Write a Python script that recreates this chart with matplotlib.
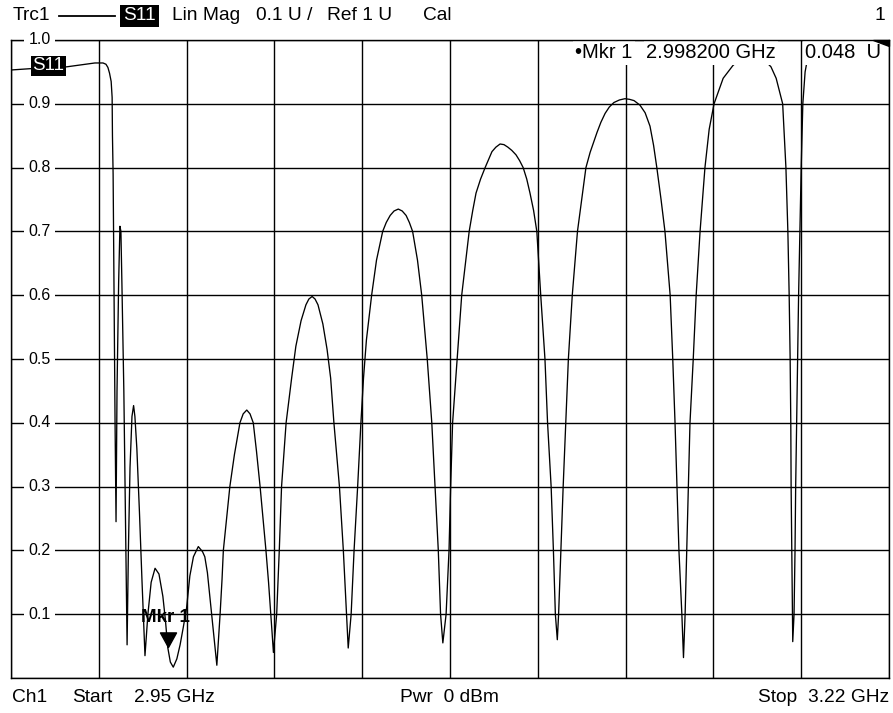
import numpy as np
import matplotlib
matplotlib.use("Agg")
import matplotlib.pyplot as plt
import matplotlib.transforms as mtransforms
from matplotlib.patches import Polygon
from matplotlib.lines import Line2D
from matplotlib.path import Path

plt.rcParams['font.family'] = ['Liberation Sans', 'DejaVu Sans']

# Sweep settings
START_MHZ = 2950.0
STOP_MHZ = 3220.0
REF_LEVEL = 1.0
SCALE_DIV = 0.1

# Measured |S11| (linear magnitude) versus frequency
freq_mhz = [
    2950.0, 2955.8, 2962.0, 2967.2, 2972.8, 2975.8, 2978.3, 2979.2, 2979.8, 2980.3,
    2980.8, 2981.1, 2981.2, 2981.4, 2981.7, 2982.0, 2982.3, 2982.6, 2983.1, 2983.5,
    2983.8, 2984.1, 2984.7, 2985.2, 2985.7, 2986.1, 2986.6, 2987.2, 2987.7, 2988.1,
    2988.7, 2989.5, 2990.3, 2991.2, 2992.1, 2993.1, 2994.3, 2995.5, 2996.7, 2997.5,
    2998.2, 2999.0, 2999.9, 3001.0, 3002.0, 3003.0, 3004.0, 3005.0, 3006.1, 3007.6,
    3008.9, 3009.6, 3010.4, 3011.1, 3011.7, 3012.5, 3013.3, 3013.8, 3014.3, 3014.9,
    3015.3, 3016.3, 3017.3, 3018.7, 3020.4, 3021.4, 3022.5, 3023.5, 3024.5, 3025.5,
    3026.6, 3027.5, 3028.4, 3029.2, 3029.9, 3030.3, 3030.7, 3031.2, 3031.7, 3032.5,
    3033.2, 3034.6, 3036.3, 3037.6, 3039.2, 3040.7, 3041.6, 3042.6, 3043.5, 3044.4,
    3045.9, 3047.2, 3048.3, 3049.3, 3051.0, 3052.2, 3053.2, 3053.7, 3054.6, 3055.5,
    3056.6, 3057.6, 3058.4, 3059.3, 3060.9, 3062.4, 3064.3, 3065.4, 3066.6, 3067.8,
    3069.1, 3070.3, 3071.5, 3072.5, 3073.5, 3075.0, 3076.3, 3078.0, 3079.4, 3080.4,
    3081.4, 3082.1, 3082.8, 3083.8, 3084.7, 3085.2, 3085.8, 3087.2, 3088.6, 3090.9,
    3092.0, 3093.0, 3094.4, 3095.8, 3097.9, 3099.1, 3100.4, 3101.6, 3102.8, 3104.0,
    3105.3, 3106.4, 3107.5, 3108.6, 3109.6, 3110.7, 3111.7, 3112.9, 3114.2, 3115.0,
    3116.1, 3116.8, 3117.4, 3118.0, 3118.4, 3119.1, 3119.8, 3120.6, 3121.4, 3122.6,
    3124.2, 3126.8, 3128.1, 3130.2, 3131.4, 3132.7, 3134.0, 3135.4, 3137.1, 3138.8,
    3140.2, 3141.6, 3143.4, 3145.0, 3146.5, 3147.6, 3148.6, 3149.9, 3151.1, 3152.7,
    3153.5, 3154.2, 3154.8, 3155.4, 3156.3, 3156.8, 3157.3, 3157.8, 3158.3, 3158.8,
    3159.8, 3160.7, 3161.9, 3163.4, 3164.7, 3166.2, 3169.0, 3172.0, 3174.8, 3177.9,
    3181.0, 3183.7, 3185.3, 3186.3, 3187.3, 3188.3, 3188.9, 3189.3, 3189.6, 3189.8,
    3189.9, 3190.1, 3190.3, 3190.4, 3190.8, 3191.1, 3191.3, 3191.6, 3191.9, 3192.2,
    3192.6, 3193.0, 3193.5, 3194.2, 3195.1, 3196.3, 3198.8, 3201.9, 3206.5, 3212.6,
    3220.0,
]
s11_mag = [
    0.953, 0.955, 0.956, 0.958, 0.962, 0.964, 0.964, 0.962, 0.957, 0.948,
    0.935, 0.910, 0.850, 0.790, 0.600, 0.400, 0.245, 0.450, 0.620, 0.708,
    0.700, 0.620, 0.450, 0.250, 0.052, 0.200, 0.330, 0.410, 0.427, 0.410,
    0.360, 0.260, 0.150, 0.035, 0.100, 0.150, 0.172, 0.163, 0.128, 0.090,
    0.048, 0.025, 0.017, 0.030, 0.052, 0.080, 0.110, 0.160, 0.190, 0.206,
    0.198, 0.190, 0.165, 0.130, 0.100, 0.060, 0.020, 0.060, 0.100, 0.155,
    0.200, 0.250, 0.300, 0.350, 0.400, 0.414, 0.420, 0.414, 0.400, 0.355,
    0.300, 0.250, 0.200, 0.150, 0.100, 0.070, 0.040, 0.070, 0.100, 0.200,
    0.300, 0.400, 0.470, 0.520, 0.560, 0.585, 0.594, 0.598, 0.594, 0.585,
    0.555, 0.515, 0.470, 0.400, 0.300, 0.200, 0.100, 0.047, 0.100, 0.200,
    0.300, 0.400, 0.470, 0.530, 0.600, 0.655, 0.700, 0.714, 0.725, 0.732,
    0.735, 0.732, 0.725, 0.714, 0.700, 0.655, 0.600, 0.500, 0.400, 0.300,
    0.200, 0.100, 0.055, 0.100, 0.200, 0.300, 0.400, 0.500, 0.600, 0.700,
    0.733, 0.760, 0.782, 0.800, 0.825, 0.832, 0.837, 0.836, 0.832, 0.827,
    0.820, 0.811, 0.800, 0.782, 0.760, 0.733, 0.700, 0.600, 0.500, 0.400,
    0.300, 0.200, 0.100, 0.060, 0.100, 0.200, 0.300, 0.400, 0.500, 0.600,
    0.700, 0.800, 0.824, 0.855, 0.871, 0.885, 0.895, 0.902, 0.906, 0.908,
    0.907, 0.905, 0.898, 0.886, 0.865, 0.835, 0.800, 0.750, 0.700, 0.600,
    0.500, 0.400, 0.300, 0.200, 0.100, 0.032, 0.100, 0.200, 0.300, 0.400,
    0.500, 0.600, 0.700, 0.800, 0.860, 0.900, 0.940, 0.960, 0.973, 0.978,
    0.972, 0.958, 0.940, 0.920, 0.900, 0.800, 0.700, 0.600, 0.500, 0.400,
    0.300, 0.200, 0.100, 0.057, 0.100, 0.200, 0.300, 0.400, 0.500, 0.600,
    0.700, 0.800, 0.900, 0.950, 0.975, 0.990, 0.997, 1.002, 1.010, 1.015,
    1.020,
]

# Grid labels along the left edge
y_tick_values = [1.0, 0.9, 0.8, 0.7, 0.6, 0.5, 0.4, 0.3, 0.2, 0.1]
y_tick_labels = ["1.0", "0.9", "0.8", "0.7", "0.6", "0.5", "0.4", "0.3", "0.2", "0.1"]

# Marker 1
marker_freq_mhz = 2998.2
marker_mag = 0.048

W, H = 893, 713
fig = plt.figure(figsize=(W / 100, H / 100), dpi=100)
fig.patch.set_facecolor('white')

ax = fig.add_axes([11 / W, 35 / H, 878 / W, 638 / H])
ax.plot(freq_mhz, s11_mag, color='black', lw=0.95, zorder=2.2,
        solid_joinstyle='round')
ax.set_xlim(START_MHZ, STOP_MHZ)
ax.set_ylim(REF_LEVEL - 10 * SCALE_DIV, REF_LEVEL)
ax.set_xticks(np.linspace(START_MHZ, STOP_MHZ, 11))
ax.set_yticks(np.linspace(REF_LEVEL - 10 * SCALE_DIV, REF_LEVEL, 11))
ax.grid(True, color='black', lw=1.0)
ax.tick_params(length=0, labelbottom=False, labelleft=False)
for sp in ax.spines.values():
    sp.set_linewidth(1.0)
    sp.set_color('black')

# Scale labels sitting on the grid lines
trans = mtransforms.blended_transform_factory(ax.transAxes, ax.transData)
for v, lab in zip(y_tick_values, y_tick_labels):
    ax.text(0.0325, v, lab, transform=trans, ha='center', va='center',
            fontsize=11.5, color='black', zorder=6, clip_on=False,
            bbox=dict(boxstyle='square,pad=0.25', fc='white', ec='none'))

# Trace name tag at the left of the trace
ax.text(0.0427, 0.96, "S11", transform=ax.transAxes, ha='center', va='center',
        fontsize=13.5, color='white', zorder=7,
        bbox=dict(boxstyle='square,pad=0.08', fc='black', ec='none'))

# Marker symbol with its tip on the trace
tri = Path([(-0.55, 1.0), (0.55, 1.0), (0.0, 0.0), (-0.55, 1.0)],
           [Path.MOVETO, Path.LINETO, Path.LINETO, Path.CLOSEPOLY])
ax.plot([marker_freq_mhz], [marker_mag], marker=tri, ms=21, color='black',
        lw=0, zorder=6)
ax.annotate("Mkr 1", (marker_freq_mhz, marker_mag), xytext=(-1.4, 21.6),
            textcoords='offset points', ha='center', va='center',
            fontsize=13.5, fontweight='bold', zorder=7)

# Off-screen indicator in the upper right corner
ax.add_patch(Polygon([(0.9818, 1.0), (1.0, 1.0), (1.0, 0.9906)], closed=True,
                     transform=ax.transAxes, fc='black', ec='black',
                     clip_on=False, zorder=8))


def fx(px):
    return px / W


def fy(py):
    return 1 - py / H


FS = 13.8
# Header line
fig.text(fx(13), fy(16), "Trc1", ha='left', va='center', fontsize=FS)
fig.add_artist(Line2D([fx(59), fx(115)], [fy(16), fy(16)], color='black',
                      lw=1.3, transform=fig.transFigure))
fig.text(fx(139.5), fy(16), "S11", ha='center', va='center', fontsize=FS,
         color='white', bbox=dict(boxstyle='square,pad=0.15', fc='black', ec='none'))
fig.text(fx(172), fy(16), "Lin Mag", ha='left', va='center', fontsize=FS)
fig.text(fx(256), fy(16), "0.1 U /", ha='left', va='center', fontsize=FS)
fig.text(fx(327), fy(16), "Ref 1 U", ha='left', va='center', fontsize=FS)
fig.text(fx(423), fy(16), "Cal", ha='left', va='center', fontsize=FS)
fig.text(fx(885), fy(16), "1", ha='right', va='center', fontsize=FS)

# Marker readout: blanks the trace behind it, frame stays on top
readout_box = dict(boxstyle='square,pad=0.12', fc='white', ec='none')
RFS = 14.5
for px, txt in [(575, "\u2022Mkr 1"), (646, "2.998200 GHz"), (805, "0.048  U")]:
    ax.text(fx(px), fy(53), txt, transform=fig.transFigure, ha='left',
            va='center', fontsize=RFS, bbox=readout_box, zorder=2.4,
            clip_on=False)

# Footer line
fig.text(fx(12), fy(697), "Ch1", ha='left', va='center', fontsize=FS)
fig.text(fx(72), fy(697), "Start", ha='left', va='center', fontsize=FS)
fig.text(fx(215), fy(697), "2.95 GHz", ha='right', va='center', fontsize=FS)
fig.text(fx(400), fy(697), "Pwr  0 dBm", ha='left', va='center', fontsize=FS)
fig.text(fx(889), fy(697), "Stop  3.22 GHz", ha='right', va='center', fontsize=FS)

fig.savefig("out.png", dpi=100, facecolor='white')
